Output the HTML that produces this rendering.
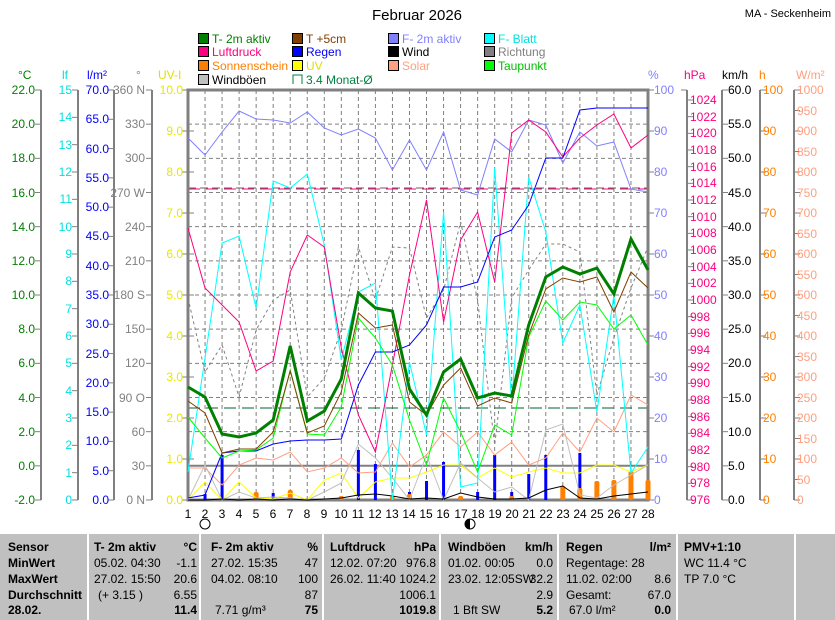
<!DOCTYPE html>
<html><head><meta charset="utf-8"><style>
html,body{margin:0;padding:0;background:#fff;}
svg{display:block;font-family:"Liberation Sans",sans-serif;}
.t{font-size:12px;}
</style></head><body>
<div style="position:relative;width:835px;height:620px;overflow:hidden">
<svg id="s" width="835" height="620" viewBox="0 0 835 620">
<text x="417" y="20" font-size="15" text-anchor="middle">Februar 2026</text>
<text x="831" y="17" font-size="11" text-anchor="end">MA - Seckenheim</text>
<!-- legend -->
<g class="t">
<rect x="198.5" y="33.5" width="10" height="10" fill="#008000" stroke="#000"/><text x="212" y="43" fill="#008000">T- 2m aktiv</text>
<rect x="292.5" y="33.5" width="10" height="10" fill="#804000" stroke="#000"/><text x="306" y="43" fill="#804000">T +5cm</text>
<rect x="388.5" y="33.5" width="10" height="10" fill="#8080ff" stroke="#000"/><text x="402" y="43" fill="#8080ff">F- 2m aktiv</text>
<rect x="484.5" y="33.5" width="10" height="10" fill="#00ffff" stroke="#000"/><text x="498" y="43" fill="#00e0e0">F- Blatt</text>
<rect x="198.5" y="46.5" width="10" height="10" fill="#ff0080" stroke="#000"/><text x="212" y="56" fill="#ff0080">Luftdruck</text>
<rect x="292.5" y="46.5" width="10" height="10" fill="#0000ff" stroke="#000"/><text x="306" y="56" fill="#0000ff">Regen</text>
<rect x="388.5" y="46.5" width="10" height="10" fill="#000" stroke="#000"/><text x="402" y="56" fill="#000">Wind</text>
<rect x="484.5" y="46.5" width="10" height="10" fill="#808080" stroke="#000"/><text x="498" y="56" fill="#808080">Richtung</text>
<rect x="198.5" y="60.5" width="10" height="10" fill="#ff8000" stroke="#000"/><text x="212" y="70" fill="#ff8000">Sonnenschein</text>
<rect x="292.5" y="60.5" width="10" height="10" fill="#ffff00" stroke="#000"/><text x="306" y="70" fill="#e0e000">UV</text>
<rect x="388.5" y="60.5" width="10" height="10" fill="#ffa080" stroke="#000"/><text x="402" y="70" fill="#ffa080">Solar</text>
<rect x="484.5" y="60.5" width="10" height="10" fill="#00ff00" stroke="#000"/><text x="498" y="70" fill="#00c000">Taupunkt</text>
<rect x="198.5" y="74.5" width="10" height="10" fill="#c0c0c0" stroke="#000"/><text x="212" y="84" fill="#000">Windböen</text>
<path d="M293 84V75H302V84" fill="none" stroke="#008040"/><text x="306" y="84" fill="#008040">3.4 Monat-Ø</text>
</g>
<!-- unit labels -->
<g class="t">
<text x="18" y="79" fill="#008000">°C</text>
<text x="62" y="79" fill="#00e0e0">lf</text>
<text x="87" y="79" fill="#0000ff">l/m²</text>
<text x="136" y="79" fill="#808080">°</text>
<text x="158" y="79" fill="#e0e000">UV-I</text>
<text x="648" y="79" fill="#8080ff">%</text>
<text x="684" y="79" fill="#ff0080">hPa</text>
<text x="722" y="79" fill="#000">km/h</text>
<text x="759" y="79" fill="#ff8000">h</text>
<text x="796" y="79" fill="#ffa080">W/m²</text>
</g>
<g id="axes" stroke="#808080" stroke-width="2" fill="none"></g>
<g id="grid"></g>
<g id="series"></g>
<!-- left labels -->
<g class="t" text-anchor="end" fill="#008000">
<text x="35" y="94">22.0</text><text x="35" y="128">20.0</text><text x="35" y="162">18.0</text><text x="35" y="197">16.0</text><text x="35" y="231">14.0</text><text x="35" y="265">12.0</text><text x="35" y="299">10.0</text><text x="35" y="333">8.0</text><text x="35" y="367">6.0</text><text x="35" y="402">4.0</text><text x="35" y="436">2.0</text><text x="35" y="470">0.0</text><text x="35" y="504">-2.0</text>
</g>
<g class="t" text-anchor="end" fill="#00e0e0">
<text x="72" y="94">15</text><text x="72" y="121">14</text><text x="72" y="149">13</text><text x="72" y="176">12</text><text x="72" y="203">11</text><text x="72" y="231">10</text><text x="72" y="258">9</text><text x="72" y="285">8</text><text x="72" y="313">7</text><text x="72" y="340">6</text><text x="72" y="367">5</text><text x="72" y="395">4</text><text x="72" y="422">3</text><text x="72" y="449">2</text><text x="72" y="477">1</text><text x="72" y="504">0</text>
</g>
<g class="t" text-anchor="end" fill="#0000ff">
<text x="109" y="94">70.0</text><text x="109" y="123">65.0</text><text x="109" y="153">60.0</text><text x="109" y="182">55.0</text><text x="109" y="211">50.0</text><text x="109" y="240">45.0</text><text x="109" y="270">40.0</text><text x="109" y="299">35.0</text><text x="109" y="328">30.0</text><text x="109" y="358">25.0</text><text x="109" y="387">20.0</text><text x="109" y="416">15.0</text><text x="109" y="445">10.0</text><text x="109" y="475">5.0</text><text x="109" y="504">0.0</text>
</g>
<g class="t" text-anchor="end" fill="#808080">
<text x="145" y="94">360 N</text><text x="145" y="128">330</text><text x="145" y="162">300</text><text x="145" y="197">270 W</text><text x="145" y="231">240</text><text x="145" y="265">210</text><text x="145" y="299">180 S</text><text x="145" y="333">150</text><text x="145" y="367">120</text><text x="145" y="402">90 O</text><text x="145" y="436">60</text><text x="145" y="470">30</text><text x="145" y="504">0 N</text>
</g>
<g class="t" text-anchor="end" fill="#e8e800">
<text x="183" y="94">10.0</text><text x="183" y="135">9.0</text><text x="183" y="176">8.0</text><text x="183" y="217">7.0</text><text x="183" y="258">6.0</text><text x="183" y="299">5.0</text><text x="183" y="340">4.0</text><text x="183" y="381">3.0</text><text x="183" y="422">2.0</text><text x="183" y="463">1.0</text><text x="183" y="504">0.0</text>
</g>
<!-- right labels -->
<g class="t" fill="#8080ff">
<text x="654" y="94">100</text><text x="654" y="135">90</text><text x="654" y="176">80</text><text x="654" y="217">70</text><text x="654" y="258">60</text><text x="654" y="299">50</text><text x="654" y="340">40</text><text x="654" y="381">30</text><text x="654" y="422">20</text><text x="654" y="463">10</text><text x="654" y="504">0</text>
</g>
<g class="t" fill="#ff0080">
<text x="690" y="104">1024</text><text x="690" y="121">1022</text><text x="690" y="137">1020</text><text x="690" y="154">1018</text><text x="690" y="171">1016</text><text x="690" y="187">1014</text><text x="690" y="204">1012</text><text x="690" y="221">1010</text><text x="690" y="237">1008</text><text x="690" y="254">1006</text><text x="690" y="271">1004</text><text x="690" y="287">1002</text><text x="690" y="304">1000</text><text x="690" y="321">998</text><text x="690" y="337">996</text><text x="690" y="354">994</text><text x="690" y="371">992</text><text x="690" y="387">990</text><text x="690" y="404">988</text><text x="690" y="421">986</text><text x="690" y="437">984</text><text x="690" y="454">982</text><text x="690" y="471">980</text><text x="690" y="487">978</text><text x="690" y="504">976</text>
</g>
<g class="t" fill="#000">
<text x="728" y="94">60.0</text><text x="728" y="128">55.0</text><text x="728" y="162">50.0</text><text x="728" y="197">45.0</text><text x="728" y="231">40.0</text><text x="728" y="265">35.0</text><text x="728" y="299">30.0</text><text x="728" y="333">25.0</text><text x="728" y="367">20.0</text><text x="728" y="402">15.0</text><text x="728" y="436">10.0</text><text x="728" y="470">5.0</text><text x="728" y="504">0.0</text>
</g>
<g class="t" fill="#ff8000">
<text x="763" y="94">100</text><text x="763" y="135">90</text><text x="763" y="176">80</text><text x="763" y="217">70</text><text x="763" y="258">60</text><text x="763" y="299">50</text><text x="763" y="340">40</text><text x="763" y="381">30</text><text x="763" y="422">20</text><text x="763" y="463">10</text><text x="763" y="504">0</text>
</g>
<g class="t" fill="#ffa080">
<text x="797" y="94">1000</text><text x="797" y="115">950</text><text x="797" y="135">900</text><text x="797" y="156">850</text><text x="797" y="176">800</text><text x="797" y="197">750</text><text x="797" y="217">700</text><text x="797" y="238">650</text><text x="797" y="258">600</text><text x="797" y="279">550</text><text x="797" y="299">500</text><text x="797" y="320">450</text><text x="797" y="340">400</text><text x="797" y="361">350</text><text x="797" y="381">300</text><text x="797" y="402">250</text><text x="797" y="422">200</text><text x="797" y="443">150</text><text x="797" y="463">100</text><text x="797" y="484">50</text><text x="797" y="504">0</text>
</g>
<!-- day labels -->
<g class="t" text-anchor="middle">
<text x="188" y="518">1</text><text x="205" y="518">2</text><text x="222" y="518">3</text><text x="239" y="518">4</text><text x="256" y="518">5</text><text x="273" y="518">6</text><text x="290" y="518">7</text><text x="307" y="518">8</text><text x="324" y="518">9</text><text x="341" y="518">10</text><text x="358" y="518">11</text><text x="375" y="518">12</text><text x="392" y="518">13</text><text x="409" y="518">14</text><text x="426" y="518">15</text><text x="443" y="518">16</text><text x="461" y="518">17</text><text x="478" y="518">18</text><text x="495" y="518">19</text><text x="512" y="518">20</text><text x="529" y="518">21</text><text x="546" y="518">22</text><text x="563" y="518">23</text><text x="580" y="518">24</text><text x="597" y="518">25</text><text x="614" y="518">26</text><text x="631" y="518">27</text><text x="648" y="518">28</text>
</g>
<circle cx="205" cy="524" r="5" fill="#fff" stroke="#000"/>
<circle cx="470" cy="524" r="5" fill="#fff" stroke="#000"/>
<path d="M470 519A5 5 0 0 0 470 529Z" fill="#000"/>
<!-- table -->
<rect x="0" y="534" width="835" height="86" fill="#c0c0c0"/>
<g stroke="#fff" stroke-width="2">
<line x1="88" y1="534" x2="88" y2="620"/><line x1="200" y1="534" x2="200" y2="620"/><line x1="323" y1="534" x2="323" y2="620"/><line x1="440" y1="534" x2="440" y2="620"/><line x1="558" y1="534" x2="558" y2="620"/><line x1="677" y1="534" x2="677" y2="620"/><line x1="795" y1="534" x2="795" y2="620"/>
</g>
<g class="t" font-weight="bold">
<text x="8" y="551">Sensor</text><text x="8" y="567">MinWert</text><text x="8" y="583">MaxWert</text><text x="8" y="599">Durchschnitt</text><text x="8" y="614">28.02.</text>
<text x="94" y="551">T- 2m aktiv</text><text x="211" y="551">F- 2m aktiv</text><text x="330" y="551">Luftdruck</text><text x="448" y="551">Windböen</text><text x="566" y="551">Regen</text><text x="684" y="551">PMV+1:10</text>
</g>
<g class="t" font-weight="bold" text-anchor="end">
<text x="197" y="551">°C</text><text x="318" y="551">%</text><text x="436" y="551">hPa</text><text x="553" y="551">km/h</text><text x="671" y="551">l/m²</text>
<text x="197" y="614">11.4</text><text x="318" y="614">75</text><text x="436" y="614">1019.8</text><text x="553" y="614">5.2</text><text x="671" y="614">0.0</text>
</g>
<g class="t">
<text x="94" y="567">05.02. 04:30</text><text x="94" y="583">27.02. 15:50</text><text x="98" y="599">(+ 3.15 )</text>
<text x="211" y="567">27.02. 15:35</text><text x="211" y="583">04.02. 08:10</text><text x="215" y="614">7.71 g/m³</text>
<text x="330" y="567">12.02. 07:20</text><text x="330" y="583">26.02. 11:40</text>
<text x="448" y="567">01.02. 00:05</text><text x="448" y="583">23.02. 12:05SW</text><text x="453" y="614">1 Bft SW</text>
<text x="566" y="567">Regentage: 28</text><text x="566" y="583">11.02. 02:00</text><text x="566" y="599">Gesamt:</text><text x="569" y="614">67.0 l/m²</text>
<text x="684" y="567">WC 11.4 °C</text><text x="684" y="583">TP 7.0 °C</text>
</g>
<g class="t" text-anchor="end">
<text x="197" y="567">-1.1</text><text x="197" y="583">20.6</text><text x="197" y="599">6.55</text>
<text x="318" y="567">47</text><text x="318" y="583">100</text><text x="318" y="599">87</text>
<text x="436" y="567">976.8</text><text x="436" y="583">1024.2</text><text x="436" y="599">1006.1</text>
<text x="553" y="567">0.0</text><text x="553" y="583">32.2</text><text x="553" y="599">2.9</text>
<text x="671" y="583">8.6</text><text x="671" y="599">67.0</text>
</g>
</svg>
</div>
<script>
(function(){
var NS="http://www.w3.org/2000/svg";
function el(p,n,a){var e=document.createElementNS(NS,n);for(var k in a)e.setAttribute(k,a[k]);p.appendChild(e);return e;}
var X=[];for(var d=0;d<28;d++)X.push(188+d*460/27);
var ax=document.getElementById('axes'),gr=document.getElementById('grid'),se=document.getElementById('series');
[41,78,114,152].forEach(function(x){el(ax,'line',{x1:x,y1:90,x2:x,y2:500});});
[687,722,760,794].forEach(function(x){el(ax,'line',{x1:x,y1:90,x2:x,y2:500});});
function ticks(x,n,top,bot,dir){for(var i=0;i<n;i++){var y=top+(bot-top)*i/(n-1);el(ax,'line',{x1:x,y1:y,x2:x+dir*6,y2:y,'stroke-width':1});}}
ticks(41,13,90,500,-1);ticks(78,16,90,500,-1);ticks(114,15,90,500,-1);ticks(152,13,90,500,-1);ticks(188,11,90,500,-1);
ticks(648,11,90,500,1);ticks(687,25,100,500,1);ticks(722,13,90,500,1);ticks(760,11,90,500,1);ticks(794,21,90,500,1);
el(ax,'line',{x1:681,y1:90,x2:687,y2:90,'stroke-width':1});
for(var i=1;i<27;i++)el(gr,'line',{x1:X[i],y1:90,x2:X[i],y2:500,stroke:'#808080','stroke-dasharray':'4,3','stroke-width':1});
for(var i=1;i<12;i++){var y=90+i*410/12;if(i==11)continue;el(gr,'line',{x1:188,y1:y,x2:648,y2:y,stroke:'#808080','stroke-dasharray':'4,3','stroke-width':1});}
for(var i=1;i<10;i++){var y=90+i*41;el(gr,'line',{x1:188,y1:y,x2:194,y2:y,stroke:'#808080'});}
el(gr,'line',{x1:188,y1:465.8,x2:648,y2:465.8,stroke:'#808080','stroke-width':2});
el(gr,'line',{x1:188,y1:188,x2:648,y2:188,stroke:'#606060','stroke-dasharray':'8,4','stroke-width':1});
el(gr,'line',{x1:188,y1:189,x2:648,y2:189,stroke:'#ff0080','stroke-dasharray':'12,6','stroke-width':1});
el(gr,'line',{x1:188,y1:408,x2:648,y2:408,stroke:'#006030','stroke-dasharray':'12,6','stroke-width':1});
el(gr,'rect',{x:188,y:90,width:460,height:410,fill:'none',stroke:'#808080','stroke-width':3});
function line(Y,c,w,dash){var p=Y.map(function(y,i){return X[i].toFixed(1)+','+y;}).join(' ');var a={points:p,fill:'none',stroke:c,'stroke-width':w||1};if(dash)a['stroke-dasharray']=dash;el(se,'polyline',a);}
var rain={2:494,3:455,6:493,11:450,12:464,14:492,15:481,16:462,18:492,19:455,20:492,21:474,22:455,24:453,28:490};
for(var k in rain)el(se,'rect',{x:X[k-1]-1.5,y:rain[k],width:3,height:500-rain[k],fill:'#0000ff'});
var sun={5:492,7:490,10:496,13:496,14:494,17:496,20:496,23:486,24:488,25:481,26:480,27:471,28:480};
for(var k in sun)el(se,'rect',{x:X[k-1]-2.5,y:sun[k],width:5,height:500-sun[k],rx:2,fill:'#ff8000'});
line([500,482,500,482,498,499,493,500,480,473,498,482,478,478,472,465,465,478,468,477,472,468,473,473,465,465,472,465],'#ffff00');
line([500,465,500,492,498,497,498,500,492,483,444,458,478,500,455,500,463,478,492,487,500,430,424,495,498,485,475,465],'#c0c0c0');
line([468,468,485,465,458,460,452,472,468,458,473,472,443,467,455,432,447,432,455,442,465,458,433,452,418,432,395,405],'#ffa080');
line([500,500,499,500,499,500,499,500,499,498,495,494,496,499,498,499,493,497,499,499,498,490,486,498,499,496,494,492],'#000');
line([298,372,345,397,330,300,290,397,378,330,247,300,247,248,318,290,222,300,445,298,270,244,244,252,395,338,288,247],'#808080',1,'3,3');
line([472,358,243,236,308,181,188,174,245,360,292,283,500,362,435,212,487,483,168,402,177,232,343,305,412,295,473,447],'#00ffff');
line([138,155,132,111,119,120,123,112,128,135,129,138,170,140,170,132,190,195,139,152,120,125,163,132,146,142,189,192],'#8080ff');
line([228,288,305,322,371,361,272,235,247,348,415,452,365,275,200,322,240,212,282,133,120,132,157,138,125,114,148,135],'#ff0080');
line([498,495,453,451,451,444,441,440,440,439,385,352,352,345,325,287,287,282,237,230,205,158,158,110,108,108,108,108],'#0000ff');
line([417,438,458,451,450,438,370,434,435,407,318,338,365,420,465,398,432,472,425,435,337,301,320,302,305,329,315,345],'#00ff00');
line([401,413,453,449,449,432,371,433,426,392,313,328,325,402,415,385,368,406,398,403,335,289,278,282,277,312,272,288],'#804000');
line([387,397,434,437,433,420,346,421,411,379,293,308,311,389,415,372,359,398,393,396,325,277,267,274,268,294,239,270],'#008000',3);
})();
</script>
</body></html>
